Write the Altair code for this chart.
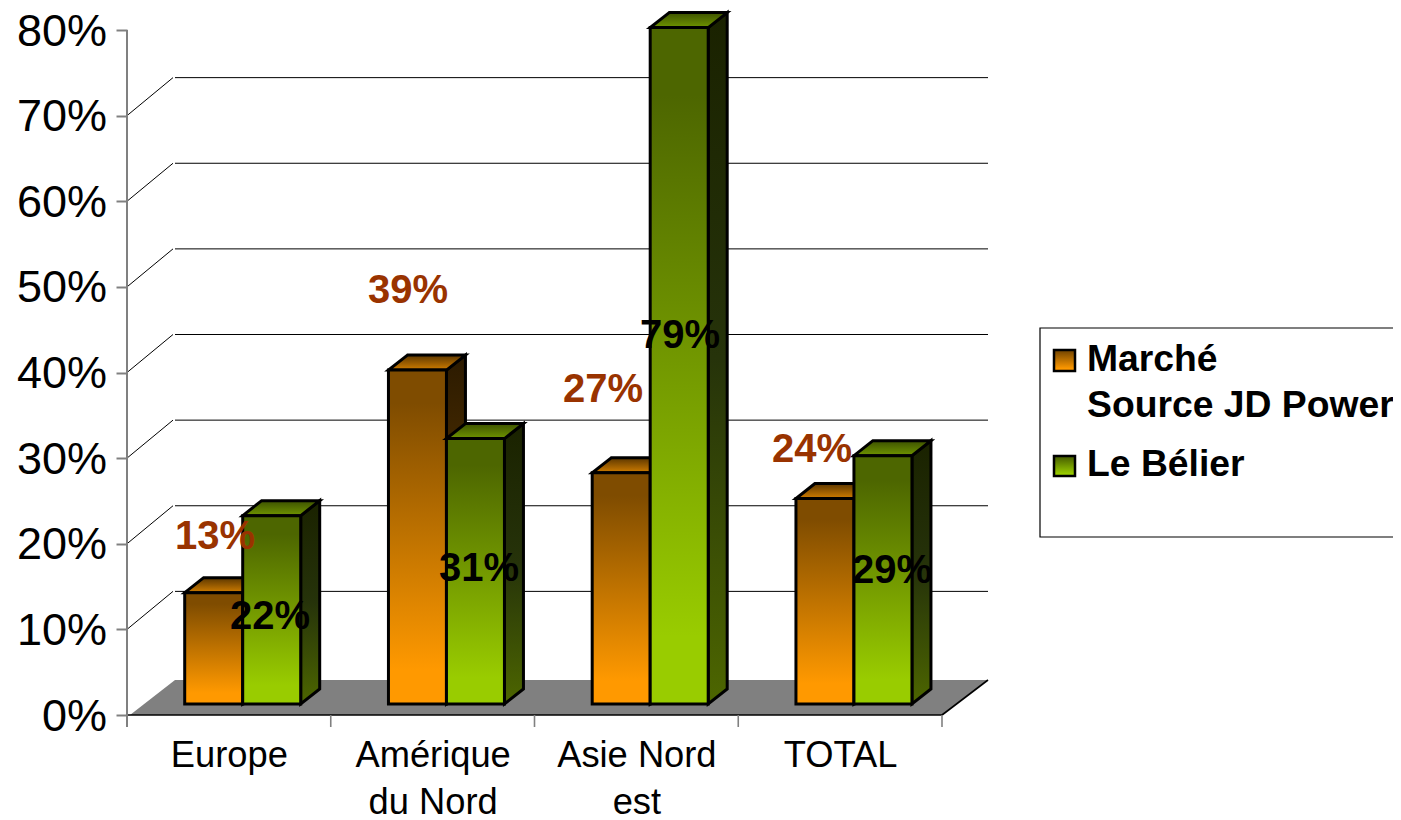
import altair as alt
import pandas as pd

categories = ["Europe", "Amérique\ndu Nord", "Asie Nord\nest", "TOTAL"]
series_names = ["Marché\nSource JD Power", "Le Bélier"]
marche = [13, 39, 27, 24]
belier = [22, 31, 79, 29]
y_ticks = [0, 10, 20, 30, 40, 50, 60, 70, 80]

# projection constants: pixels per x unit (one category slot) and per percent point
SLOT, PCT = 203.75, 8.5625
X0, Y0 = 127, 715
W, H = 1266, 707
FONT = "Liberation Sans"
ux = lambda px: (px - X0) / SLOT
uy = lambda py: (Y0 - py) / PCT

xs = alt.Scale(domain=[0, W / SLOT], nice=False, zero=False)
ys = alt.Scale(domain=[0, H / PCT], nice=False, zero=False)

expr = "".join(
    f"datum.value == {i + 0.5} ? {c.split(chr(10))!r} : " for i, c in enumerate(categories)
) + "''"
x_axis = alt.Axis(
    values=[0.5, 1.5, 2.5, 3.5], labelExpr=expr, domain=False, ticks=False, grid=False,
    labelFont=FONT, labelFontSize=36.3, labelColor="black", labelPadding=22.5, labelLineHeight=46.5,
    labelOverlap=False, labelBound=False, labelFlush=False, labelAngle=0, labelBaseline="top")
y_axis = alt.Axis(
    values=y_ticks, labelExpr="datum.value + '%'", domain=False, grid=False,
    tickColor="#808080", tickWidth=2, tickSize=11, labelPadding=9.5, labelOffset=1,
    labelFont=FONT, labelFontSize=45, labelColor="black", labelOverlap=False, labelBound=False)
X = lambda f="x": alt.X(f"{f}:Q", scale=xs, axis=x_axis, title=None)
Y = lambda f="y": alt.Y(f"{f}:Q", scale=ys, axis=y_axis, title=None)


def grad(stops):
    return alt.Gradient(
        gradient="linear", x1=0, x2=0, y1=0, y2=1,
        stops=[alt.GradientStop(color=c, offset=o) for o, c in stops],
    )


def rules(rows, color, width):
    df = pd.DataFrame(rows, columns=["x", "x2", "y", "y2"])
    return alt.Chart(df).mark_rule(color=color, strokeWidth=width).encode(
        x=X(), x2="x2:Q", y=Y(), y2="y2:Q"
    )


STYLES = [
    dict(front=[(0, "#7f4c00"), (0.1, "#7f4c00"), (0.9, "#ff9900"), (1, "#ff9900")],
         side=[(0, "#2b1a00"), (1, "#7f4c00")],
         top=[(0, "#5c3700"), (1, "#d07d00")]),
    dict(front=[(0, "#4d6600"), (0.1, "#4d6600"), (0.9, "#99cc00"), (1, "#99cc00")],
         side=[(0, "#1a2200"), (0.5, "#26330a"), (1, "#4d6600")],
         top=[(0, "#3d5200"), (1, "#6f9400")]),
]

BASE = 11 / PCT
DX, DY = 19 / SLOT, 15 / PCT
BAR_START, BAR_W = 57.7 / SLOT, 58 / SLOT
LINE = dict(stroke="black", strokeWidth=3, strokeJoin="miter")


def bars(values, offset, style):
    front, side, top = [], [], []
    for i, v in enumerate(values):
        x0 = i + BAR_START + offset * BAR_W
        x1 = x0 + BAR_W
        t = BASE + v
        front.append(dict(x=x0, x2=x1, y=BASE, y2=t))
        side += [dict(id=i, x=x1, y=t, y2=BASE), dict(id=i, x=x1 + DX, y=t + DY, y2=BASE + DY)]
        top += [dict(id=i, x=x0, x2=x1, y=t), dict(id=i, x=x0 + DX, x2=x1 + DX, y=t + DY)]
    return [
        alt.Chart(pd.DataFrame(side)).mark_area(fill=grad(style["side"]), **LINE).encode(
            x=X(), y=Y(), y2="y2:Q", detail="id:N"),
        alt.Chart(pd.DataFrame(top)).mark_area(orient="horizontal", fill=grad(style["top"]), **LINE).encode(
            y=Y(), x=X(), x2="x2:Q", detail="id:N"),
        alt.Chart(pd.DataFrame(front)).mark_rect(fill=grad(style["front"]), **LINE).encode(
            x=X(), x2="x2:Q", y=Y(), y2="y2:Q"),
    ]


floor = alt.Chart(pd.DataFrame([
    dict(x=ux(130), x2=ux(942), y=0), dict(x=ux(175), x2=ux(988), y=uy(680))
])).mark_area(orient="horizontal", fill="#808080").encode(y=Y(), x=X(), x2="x2:Q")

WDX, WDY = 48 / SLOT, 38 / PCT
walls = y_ticks[1:-1]
grid = rules([(WDX, ux(988), v + WDY, v + WDY) for v in walls], "black", 1)
diag = rules([(0, ux(173), v, v + WDY) for v in walls], "black", 1)
floor_edges = rules([(0, 4, 0, 0), (4, ux(988), 0, uy(680))], "black", 1.6)
y_line = rules([(0, 0, -12 / PCT, 80)], "#808080", 2)
x_ticks = rules([(i, i, -12 / PCT, 0) for i in range(1, 5)], "#808080", 1.6)

# data labels, each placed where the reference places it
label_px = [(215, 537), (408, 291), (603, 390), (812, 450)]
label_px2 = [(270, 617), (479, 569), (680, 336), (892, 571)]


def labels(values, places, color):
    df = pd.DataFrame([
        dict(x=ux(p[0]), y=uy(p[1]), t=f"{v}%") for v, p in zip(values, places)
    ])
    return alt.Chart(df).mark_text(
        font=FONT, fontSize=40, fontWeight="bold", color=color, align="center", baseline="middle"
    ).encode(x=X(), y=Y(), text="t:N")


# hand-built legend, placed in view pixels
one = pd.DataFrame({"a": [0]})
px = lambda v: alt.value(v - X0)
py = lambda v: alt.value(v - 8)


def box(x0, x1, y0, y1, **kw):
    return alt.Chart(one).mark_rect(**kw).encode(x=px(x0), x2=px(x1), y=py(y0), y2=py(y1))


def ltext(line, cy):
    return alt.Chart(pd.DataFrame({"t": [line]})).mark_text(
        font=FONT, fontSize=37.3, fontWeight="bold", color="black", align="left", baseline="middle",
    ).encode(x=px(1087), y=py(cy), text="t:N")


legend = [
    box(1040, 1410, 328, 537, fill="white", stroke="black", strokeWidth=1.2),
    box(1054, 1075, 350, 371, fill=grad(STYLES[0]["front"]), stroke="black", strokeWidth=2.5),
    box(1054, 1075, 456, 476, fill=grad(STYLES[1]["front"]), stroke="black", strokeWidth=2.5),
    ltext(series_names[0].split("\n")[0], 360),
    ltext(series_names[0].split("\n")[1], 406),
    ltext(series_names[1], 465),
]

chart = alt.layer(
    grid, diag, floor, floor_edges, y_line, x_ticks,
    *bars(marche, 0, STYLES[0]),
    *bars(belier, 1, STYLES[1]),
    labels(marche, label_px, "#993300"),
    labels(belier, label_px2, "black"),
    *legend,
).properties(
    width=W, height=H,
    autosize=alt.AutoSizeParams(type="none"),
    padding={"left": 119, "top": 0, "right": 0, "bottom": 105},
).configure_view(stroke=None)

chart.save("out.html", embed_options={"renderer": "svg", "actions": False})
